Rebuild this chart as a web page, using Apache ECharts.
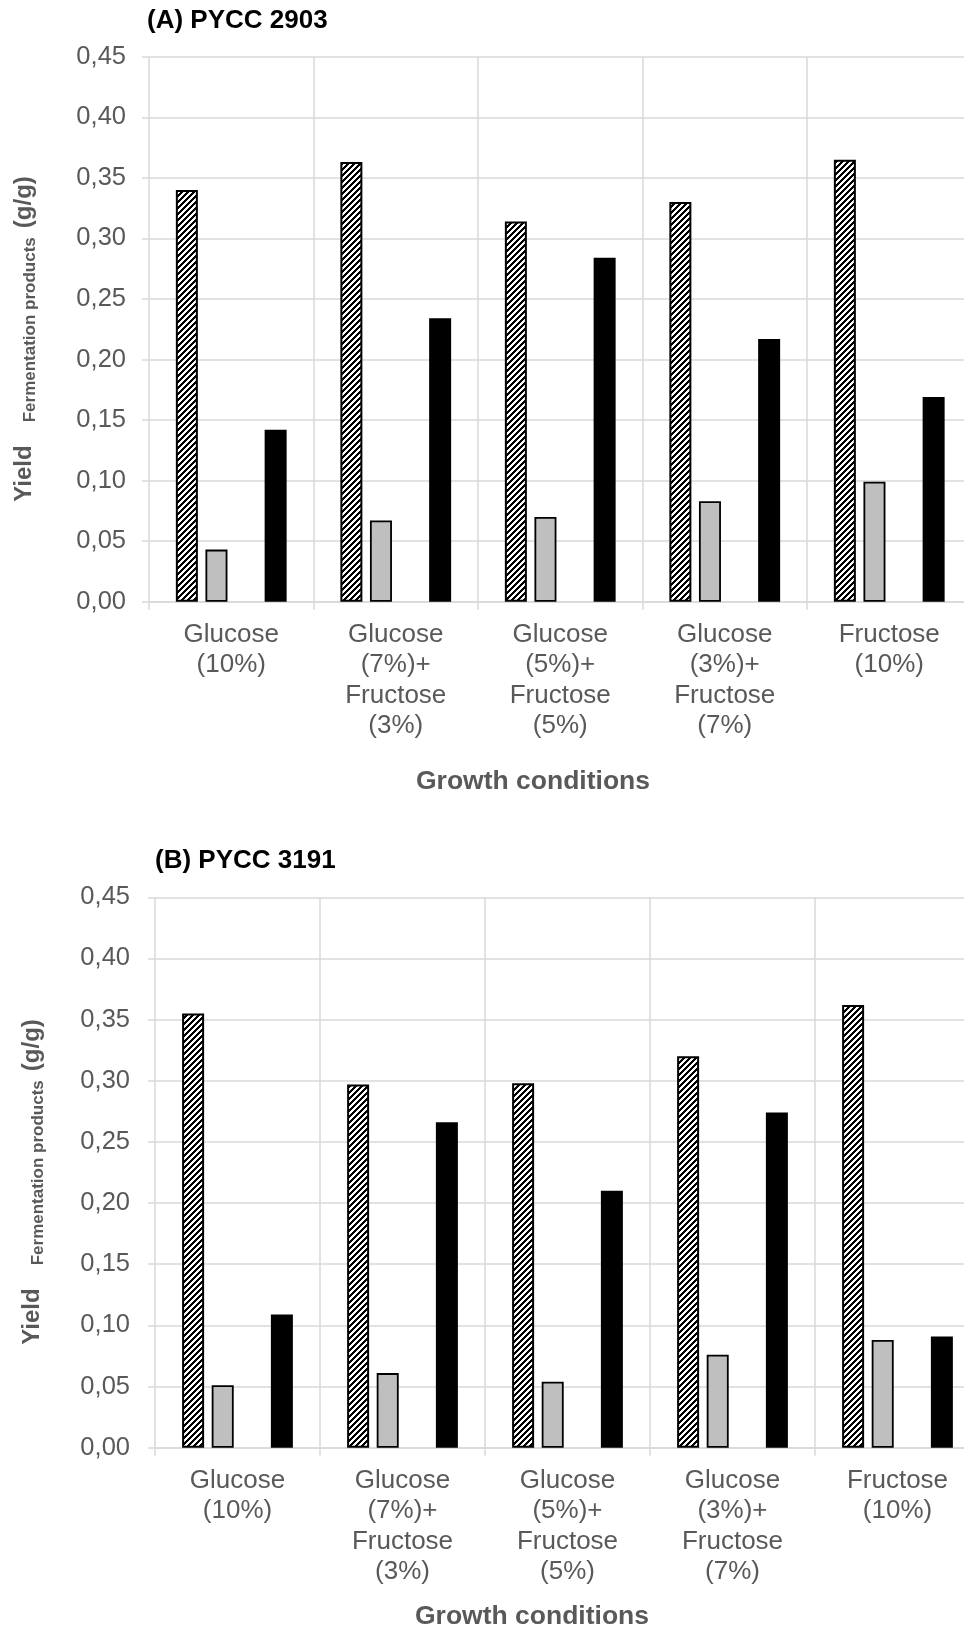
<!DOCTYPE html>
<html>
<head>
<meta charset="utf-8">
<script src="https://cdn.jsdelivr.net/npm/echarts@6/dist/echarts.min.js"></script>
<style>
  html, body { margin: 0; padding: 0; background: #fff; }
  #chart { width: 964px; height: 1629px; }
</style>
</head>
<body>
<div id="chart"></div>
<script>
// ---------------- DATA ----------------
const categories = [
  'Glucose\n(10%)',
  'Glucose\n(7%)+\nFructose\n(3%)',
  'Glucose\n(5%)+\nFructose\n(5%)',
  'Glucose\n(3%)+\nFructose\n(7%)',
  'Fructose\n(10%)'
];
const yMin = 0, yMax = 0.45, yStep = 0.05;

// Panel A: PYCC 2903
const panelA_hatched = [0.340, 0.363, 0.314, 0.330, 0.365];
const panelA_gray    = [0.043, 0.067, 0.070, 0.083, 0.099];
const panelA_empty   = [null, null, null, null, null];
const panelA_black   = [0.142, 0.234, 0.284, 0.217, 0.169];

// Panel B: PYCC 3191
const panelB_hatched = [0.355, 0.297, 0.298, 0.320, 0.362];
const panelB_gray    = [0.051, 0.061, 0.054, 0.076, 0.088];
const panelB_empty   = [null, null, null, null, null];
const panelB_black   = [0.109, 0.266, 0.210, 0.274, 0.091];

const titleA = '(A) PYCC 2903';
const titleB = '(B) PYCC 3191';
const xTitle = 'Growth conditions';

// ---------------- STYLE ----------------
const FONT = '"Liberation Sans", Arial, sans-serif';
const GRID_COLOR = '#d9d9d9';
const TEXT_GRAY = '#595959';

function makeHatch() {
  // crisp, pixel-aligned upward diagonal stripes
  const n = 6;
  const c = document.createElement('canvas');
  c.width = n; c.height = n;
  const ctx = c.getContext('2d');
  ctx.fillStyle = '#fff';
  ctx.fillRect(0, 0, n, n);
  ctx.fillStyle = '#000';
  for (let y = 0; y < n; y++) {
    for (let x = 0; x < n; x++) {
      if ((x + y) % n < 3) ctx.fillRect(x, y, 1, 1);
    }
  }
  return c;
}
const hatch = makeHatch();

const grids = [
  { left: 149, top: 56.7, right: -7.5, bottom: 1629 - 601.7, containLabel: false, outerBoundsMode: 'none' },
  { left: 155, top: 897.3, right: -16, bottom: 1629 - 1447.7, containLabel: false, outerBoundsMode: 'none' }
];
const labelMargins = [23, 25];

const xAxes = grids.map((g, i) => ({
  type: 'category',
  gridIndex: i,
  data: categories,
  boundaryGap: true,
  axisLine: { show: true, lineStyle: { color: GRID_COLOR, width: 1.5 } },
  axisTick: { show: true, length: 8, lineStyle: { color: GRID_COLOR, width: 1.5 } },
  splitLine: { show: true, lineStyle: { color: GRID_COLOR, width: 1.5 } },
  axisLabel: {
    interval: 0, fontSize: 26, color: TEXT_GRAY, fontFamily: FONT,
    lineHeight: 30.5, margin: 17.5
  }
}));

const yAxes = grids.map((g, i) => ({
  type: 'value',
  gridIndex: i,
  min: yMin, max: yMax, interval: yStep,
  axisLine: { show: false },
  axisTick: { show: true, length: 7, lineStyle: { color: GRID_COLOR, width: 1.5 } },
  splitLine: { show: true, lineStyle: { color: GRID_COLOR, width: 1.5 } },
  axisLabel: {
    fontSize: 25.5, color: TEXT_GRAY, fontFamily: FONT, margin: labelMargins[i],
    formatter: v => v.toFixed(2).replace('.', ',')
  }
}));

const BAR_W = 22, BAR_GAP = '34.5%';
function panelSeries(idx, hatched, gray, empty, black) {
  return [
    { type: 'bar', name: 'hatched', xAxisIndex: idx, yAxisIndex: idx, data: hatched,
      barWidth: BAR_W, barGap: BAR_GAP,
      itemStyle: { color: { image: hatch, repeat: 'repeat' }, borderColor: '#000', borderWidth: 2 } },
    { type: 'bar', name: 'gray', xAxisIndex: idx, yAxisIndex: idx, data: gray,
      barWidth: BAR_W, barGap: BAR_GAP,
      itemStyle: { color: '#bfbfbf', borderColor: '#000', borderWidth: 1.8 } },
    { type: 'bar', name: 'empty', xAxisIndex: idx, yAxisIndex: idx, data: empty,
      barWidth: BAR_W, barGap: BAR_GAP,
      itemStyle: { color: '#ffffff' } },
    { type: 'bar', name: 'black', xAxisIndex: idx, yAxisIndex: idx, data: black,
      barWidth: BAR_W, barGap: BAR_GAP,
      itemStyle: { color: '#000000', borderWidth: 0 } }
  ];
}

function yTitle(cx, cy) {
  return {
    type: 'text', x: cx, y: cy, rotation: Math.PI / 2,
    style: {
      text: '{m|Yield}{s|Fermentation products}{m|(g/g)}',
      align: 'center', verticalAlign: 'middle',
      rich: {
        m: { fontSize: 24, fontWeight: 'bold', fill: TEXT_GRAY, fontFamily: FONT, lineHeight: 30, verticalAlign: 'middle' },
        s: { fontSize: 17, fontWeight: 'bold', fill: TEXT_GRAY, fontFamily: FONT, lineHeight: 17,
             padding: [29, 9, 0, 23], verticalAlign: 'bottom' }
      }
    }
  };
}

function plainText(x, y, text, size, color, align) {
  return {
    type: 'text', x: x, y: y,
    style: { text: text, fontSize: size, fontWeight: 'bold', fill: color, fontFamily: FONT,
             align: align, verticalAlign: 'middle' }
  };
}

const chart = echarts.init(document.getElementById('chart'), null, { renderer: 'canvas' });
chart.setOption({
  animation: false,
  backgroundColor: '#ffffff',
  grid: grids,
  xAxis: xAxes,
  yAxis: yAxes,
  series: [].concat(
    panelSeries(0, panelA_hatched, panelA_gray, panelA_empty, panelA_black),
    panelSeries(1, panelB_hatched, panelB_gray, panelB_empty, panelB_black)
  ),
  graphic: [
    plainText(147, 21, titleA, 26, '#000', 'left'),
    plainText(155, 861, titleB, 26, '#000', 'left'),
    plainText(533, 782, xTitle, 26.5, TEXT_GRAY, 'center'),
    plainText(532, 1617, xTitle, 26.5, TEXT_GRAY, 'center'),
    yTitle(24, 339),
    yTitle(32, 1182)
  ]
});
</script>
</body>
</html>
